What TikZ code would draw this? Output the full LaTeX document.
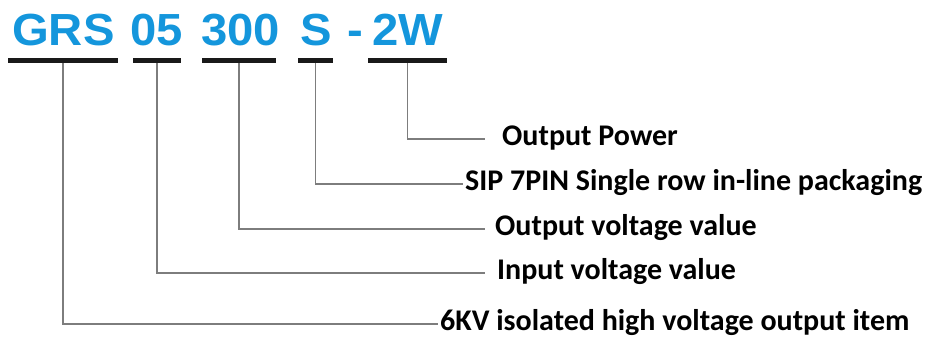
\documentclass[tikz,border=0pt]{standalone}
\usepackage{fontspec}
\setmainfont{Carlito}
\newfontfamily\codefont[FakeStretch=1.05]{Liberation Sans}
\usetikzlibrary{positioning}
\definecolor{codeblue}{RGB}{20,150,220}
\definecolor{leadgray}{RGB}{125,125,125}
\definecolor{barblack}{RGB}{25,25,25}

\begin{document}
\begin{tikzpicture}[x=1pt,y=-1pt,
  code/.style={anchor=west,inner sep=0pt,text=codeblue,text height=32pt,text depth=0pt,font=\codefont\bfseries\fontsize{45}{45}\selectfont},
  bar/.style={fill=barblack,inner sep=0pt,minimum height=5pt,anchor=north west},
  lbl/.style={anchor=west,inner ysep=0pt,text height=19pt,text depth=6pt,font=\bfseries\fontsize{30}{30}\selectfont},
  lead/.style={draw=leadgray,line width=1.5pt}
]
\useasboundingbox (0,0) rectangle (936,338);
% model code
\node[code] (grs) at (12,29) {GRS};
\node[code] (vin) at (130,29) {05};
\node[code] (vout) at (201,29) {300};
\node[code] (pkg) at (300,29) {S};
\node[code] (dash) at (347,29) {-};
\node[code] (pwr) at (372,29) {2W};
% bars under the code
\node[bar,minimum width=110pt] (bgrs) at (8,58) {};
\node[bar,minimum width=48pt] (bvin) at (133,58) {};
\node[bar,minimum width=74pt] (bvout) at (202,58) {};
\node[bar,minimum width=35pt] (bpkg) at (298,58) {};
\node[bar,minimum width=79pt] (bpwr) at (368,58) {};
% descriptions
\node[lbl,inner xsep=17pt] (lpwr) at (485,139) {Output Power};
\node[lbl,inner xsep=2pt] (lpkg) at (463,184) {SIP 7PIN Single row in-line packaging};
\node[lbl,inner xsep=10pt] (lvout) at (485,229) {Output voltage value};
\node[lbl,inner xsep=12pt] (lvin) at (485,273) {Input voltage value};
\node[lbl,inner xsep=2pt] (lgrs) at (438,324) {6KV isolated high voltage output item};
% leader lines
\draw[lead] (bpwr.south) |- (lpwr.west);
\draw[lead] (bpkg.south) |- (lpkg.west);
\draw[lead] (bvout.south) |- (lvout.west);
\draw[lead] (bvin.south) |- (lvin.west);
\draw[lead] (bgrs.south) |- (lgrs.west);
\end{tikzpicture}
\end{document}
